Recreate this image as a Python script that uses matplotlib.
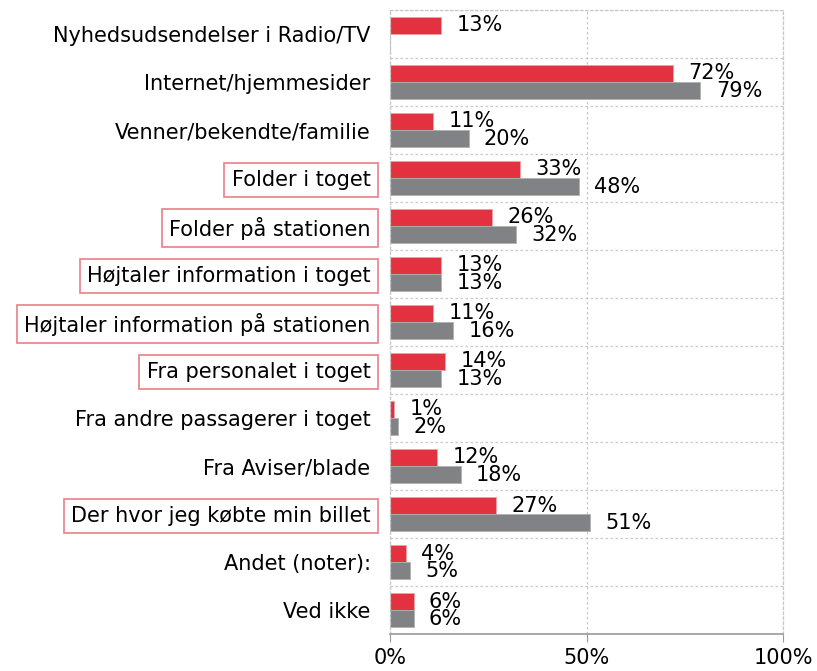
import numpy as np
import matplotlib
matplotlib.use("Agg")
import matplotlib.pyplot as plt

# survey answers, in percent
categories = ["Nyhedsudsendelser i Radio/TV", "Internet/hjemmesider",
              "Venner/bekendte/familie", "Folder i toget", "Folder på stationen",
              "Højtaler information i toget", "Højtaler information på stationen",
              "Fra personalet i toget", "Fra andre passagerer i toget",
              "Fra Aviser/blade", "Der hvor jeg købte min billet",
              "Andet (noter):", "Ved ikke"]
red_vals = [13, 72, 11, 33, 26, 13, 11, 14, 1, 12, 27, 4, 6]
gray_vals = [0, 79, 20, 48, 32, 13, 16, 13, 2, 18, 51, 5, 6]
boxed = ["Folder i toget", "Folder på stationen", "Højtaler information i toget",
         "Højtaler information på stationen", "Fra personalet i toget",
         "Der hvor jeg købte min billet"]
xticks = [0, 50, 100]

RED = "#E3323F"
GRAY = "#808285"
GRID = "#c8c8c8"
FS = 15

fig = plt.figure(figsize=(8.17, 6.71), dpi=100)
ax = fig.add_axes([0.4774, 0.0551, 0.4810, 0.9300])

y = np.arange(len(categories))
h = 0.355
ax.barh(y - h / 2, red_vals, height=h, color=RED, edgecolor="#f0a0a6", linewidth=0.6)
ax.barh(y + h / 2, gray_vals, height=h, color=GRAY, edgecolor="#b0b0b2", linewidth=0.6)

# value labels
for i in range(len(categories)):
    if red_vals[i] > 0:
        ax.annotate("%d%%" % red_vals[i], (red_vals[i], y[i] - h / 2),
                    xytext=(11, 0), textcoords="offset points",
                    va="center", ha="left", fontsize=FS)
    if gray_vals[i] > 0:
        ax.annotate("%d%%" % gray_vals[i], (gray_vals[i], y[i] + h / 2),
                    xytext=(11, 0), textcoords="offset points",
                    va="center", ha="left", fontsize=FS)

ax.set_xlim(0, 100)
ax.set_ylim(len(categories) - 0.5, -0.5)

ax.set_yticks(y)
ax.set_yticklabels(categories, fontsize=FS)
ax.tick_params(axis="y", length=0, pad=14)
for lab in ax.get_yticklabels():
    if lab.get_text() in boxed:
        lab.set_bbox(dict(facecolor="none", edgecolor="#ea7f88", linewidth=1.2,
                          boxstyle="square,pad=0.35"))

ax.set_xticks(xticks)
ax.set_xticklabels(["%d%%" % t for t in xticks], fontsize=FS)
ax.tick_params(axis="x", length=6, color="#999999", pad=4)

# dotted grid: between categories and at 50/100
ax.set_yticks(np.arange(-0.5, len(categories), 1), minor=True)
ax.tick_params(axis="y", which="minor", length=0)
ax.grid(True, which="minor", axis="y", color=GRID, linestyle=(0, (2, 2)), linewidth=0.9)
ax.grid(True, which="major", axis="x", color=GRID, linestyle=(0, (2, 2)), linewidth=0.9)
ax.set_axisbelow(True)

for side in ["top", "right", "left"]:
    ax.spines[side].set_color(GRID)
    ax.spines[side].set_linestyle((0, (2, 2)))
    ax.spines[side].set_linewidth(0.9)
ax.spines["bottom"].set_color("#999999")
ax.spines["bottom"].set_linewidth(1.2)

fig.savefig("out.png", dpi=100)
